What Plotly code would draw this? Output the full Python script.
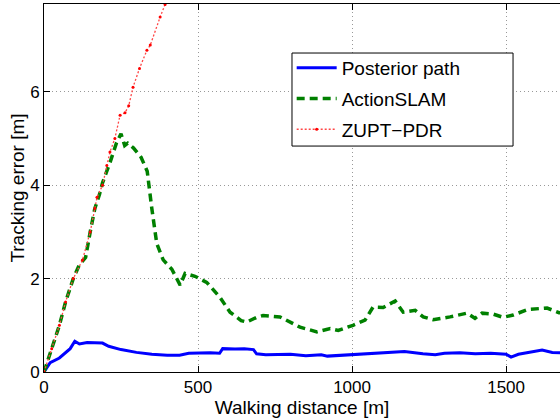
import plotly.graph_objects as go

# Posterior path
post_x = [0, 20, 50, 85, 100, 115, 140, 175, 190, 210, 250, 300, 350, 400, 440, 470, 500, 540, 570, 580,
          620, 650, 680, 690, 720, 800, 850, 900, 920, 970, 1000, 1050, 1100, 1170, 1230, 1270, 1300,
          1350, 1400, 1450, 1500, 1516, 1540, 1590, 1617, 1650, 1700]
post_y = [0, 0.2, 0.3, 0.5, 0.66, 0.6, 0.63, 0.63, 0.62, 0.55, 0.48, 0.42, 0.38, 0.36, 0.36, 0.4, 0.41,
          0.41, 0.4, 0.5, 0.49, 0.5, 0.48, 0.39, 0.37, 0.38, 0.35, 0.37, 0.34, 0.36, 0.37, 0.38, 0.4,
          0.44, 0.39, 0.37, 0.4, 0.41, 0.39, 0.4, 0.38, 0.32, 0.38, 0.44, 0.47, 0.42, 0.4]

# ActionSLAM
slam_x = [0, 25, 50, 70, 95, 115, 135, 150, 165, 180, 190, 215, 235, 250, 262, 272, 290, 315, 335, 350,
          366, 387, 415, 442, 458, 490, 528, 571, 604, 640, 658, 690, 711, 766, 831, 886, 929, 955, 1003,
          1042, 1068, 1101, 1140, 1166, 1205, 1231, 1263, 1318, 1373, 1399, 1422, 1458, 1490, 1523, 1571,
          1633, 1672, 1700]
slam_y = [0, 0.5, 1.0, 1.5, 2.0, 2.3, 2.45, 3.0, 3.5, 3.8, 4.05, 4.5, 4.9, 5.1, 4.85, 4.9, 4.8, 4.6, 4.3,
          3.5, 2.75, 2.4, 2.2, 1.86, 2.11, 2.05, 1.92, 1.6, 1.28, 1.1, 1.07, 1.17, 1.21, 1.18, 0.96, 0.86,
          0.93, 0.89, 1.0, 1.11, 1.39, 1.38, 1.52, 1.28, 1.32, 1.18, 1.12, 1.18, 1.26, 1.15, 1.26, 1.24,
          1.17, 1.22, 1.34, 1.37, 1.27, 1.25]

# ZUPT-PDR
zupt_x = [0, 25, 50, 70, 95, 125, 150, 165, 172, 190, 204, 214, 230, 247, 263, 275, 289, 310, 334, 345,
          377, 393, 410]
zupt_y = [0, 0.5, 1.0, 1.5, 2.0, 2.4, 3.0, 3.5, 3.74, 4.0, 4.42, 4.71, 5.0, 5.5, 5.55, 5.7, 6.1, 6.5,
          6.89, 7.0, 7.6, 7.87, 8.3]

x_ticks = [0, 500, 1000, 1500]
y_ticks = [0, 2, 4, 6]

FONT = "Liberation Sans, Arial, sans-serif"

fig = go.Figure()
fig.add_trace(go.Scatter(x=post_x, y=post_y, mode="lines", name="Posterior path", legendgroup="a",
                         line=dict(color="rgb(0,0,255)", width=3)))
fig.add_trace(go.Scatter(x=slam_x, y=slam_y, mode="lines", name="ActionSLAM", legendgroup="b",
                         line=dict(color="rgb(0,128,0)", width=3.5, dash="8px,5px")))
fig.add_trace(go.Scatter(x=zupt_x, y=zupt_y, mode="lines+markers", name="ZUPT\u2212PDR", legendgroup="c",
                         line=dict(color="rgb(255,70,70)", width=1.3, dash="2px,2px"),
                         marker=dict(color="red", size=3)))

# legend frame (wider than plotly's auto-sized legend box)
fig.add_shape(type="rect", xref="paper", yref="paper", x0=0.4806, x1=0.909, y0=0.614, y1=0.8668,
              fillcolor="white", line=dict(color="black", width=1), layer="above")

fig.update_layout(
    width=560, height=418,
    margin=dict(l=44, r=0, t=4, b=46),
    paper_bgcolor="white", plot_bgcolor="white",
    font=dict(family=FONT, size=17, color="black"),
    showlegend=True,
    legend=dict(x=0.48, y=0.8777, xanchor="left", yanchor="top",
                bgcolor="rgba(0,0,0,0)", borderwidth=0,
                font=dict(size=19, family=FONT), itemwidth=40, tracegroupgap=3),
    xaxis=dict(range=[0, 1675], tickvals=x_ticks, ticktext=[str(v) for v in x_ticks],
               showline=True, linecolor="black", linewidth=1, mirror="ticks",
               ticks="inside", ticklen=6, tickcolor="black",
               showgrid=True, gridcolor="#999", griddash="1px,3px", gridwidth=1,
               zeroline=False,
               title=dict(text="Walking distance [m]", font=dict(size=19), standoff=0),
               automargin=False),
    yaxis=dict(range=[0, 7.88], tickvals=y_ticks, ticktext=[str(v) for v in y_ticks],
               showline=True, linecolor="black", linewidth=1,
               ticks="inside", ticklen=6, tickcolor="black",
               showgrid=True, gridcolor="#999", griddash="1px,3px", gridwidth=1,
               zeroline=False,
               title=dict(text="Tracking error [m]", font=dict(size=19), standoff=0),
               automargin=False),
)

fig.write_html("out.html")
